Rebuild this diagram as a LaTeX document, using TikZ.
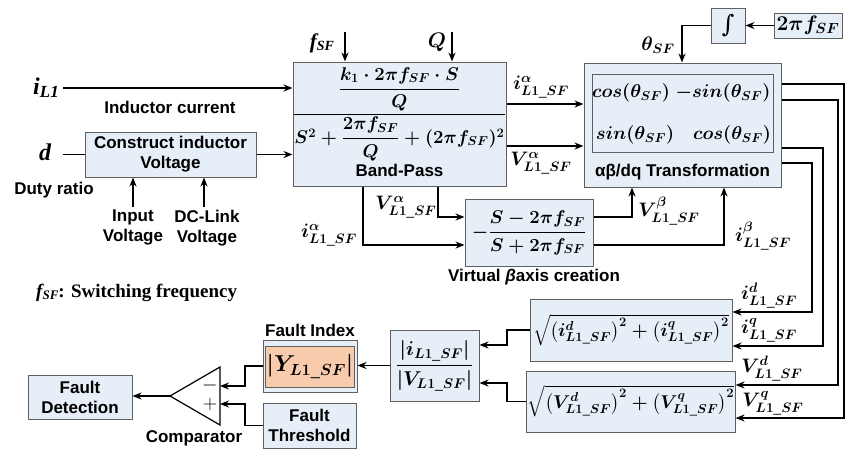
\RequirePackage{fix-cm}
\documentclass[tikz,border=0pt]{standalone}
\usepackage{amsmath}
\usepackage[no-math]{fontspec}
\setmainfont{Liberation Sans}
\newfontfamily\tms{Liberation Serif}
\newfontfamily\djv{DejaVu Serif}
\usetikzlibrary{arrows.meta}
\definecolor{bfill}{RGB}{230,238,247}
\definecolor{bdraw}{RGB}{95,95,95}
\definecolor{ofill}{RGB}{248,203,172}
\newcommand{\sub}{L1\_SF}
\begin{document}
\begin{tikzpicture}[x=1pt,y=-1pt,
  blk/.style={draw=bdraw,fill=bfill,line width=1pt,inner sep=1pt,align=center,font=\fontsize{17}{20}\selectfont\bfseries},
  mblk/.style={blk,font=\fontsize{18.5}{21}\selectfont\boldmath},
  wire/.style={line width=1.8pt},
  arr/.style={wire,-{Stealth[length=9pt,width=7pt]}},
  lbl/.style={inner sep=0pt,align=center,font=\fontsize{17}{20}\selectfont\bfseries},
  mlbl/.style={inner sep=0pt,font=\fontsize{19.5}{22}\selectfont\boldmath},
  tlbl/.style={inner sep=0pt,font=\tms\bfseries\itshape\fontsize{24}{26}\selectfont},
]
\useasboundingbox (0,0) rectangle (845,451);

% ---------- blocks ----------
\node[blk,minimum width=213pt,minimum height=124pt] (bp) at (399.5,124) {};
\node[mlbl,font=\fontsize{18.5}{21}\selectfont\boldmath] (bpf) at (399.5,114) {$\dfrac{\dfrac{k_1\cdot 2\pi f_{SF}\cdot S}{Q}}{S^2+\dfrac{2\pi f_{SF}}{Q}+(2\pi f_{SF})^2}$};
\node[lbl] (bpl) at (399.5,170) {Band-Pass};

\node[blk,minimum width=171pt,minimum height=45pt] (cv) at (170.5,154.5) {Construct inductor\\Voltage};

\node[blk,minimum width=197pt,minimum height=124pt] (tf) at (682.5,125) {};
\node[draw=bdraw,fill=bfill,line width=1pt,minimum width=181pt,minimum height=78pt] (mat) at (682.5,113) {};
\node[mlbl,font=\fontsize{18.5}{21}\selectfont\boldmath] (m11) at (631,93) {$cos(\theta_{SF})$};
\node[mlbl,font=\fontsize{18.5}{21}\selectfont\boldmath] (m12) at (723,93) {$-sin(\theta_{SF})$};
\node[mlbl,font=\fontsize{18.5}{21}\selectfont\boldmath] (m21) at (635,135) {$sin(\theta_{SF})$};
\node[mlbl,font=\fontsize{18.5}{21}\selectfont\boldmath] (m22) at (732,135) {$cos(\theta_{SF})$};
\node[lbl] (tfl) at (682.5,172) {αβ/dq Transformation};

\node[blk,minimum width=34pt,minimum height=35pt,inner sep=0pt,font=\djv\fontsize{24}{24}\selectfont] (integ) at (728,25.5) {∫};
\node[mblk,minimum width=68pt,minimum height=25pt,font=\fontsize{21}{23}\selectfont\boldmath] (twopi) at (808,25.5) {$2\pi f_{SF}$};

\node[mblk,minimum width=128pt,minimum height=67pt] (vb) at (529,232.5) {$-\dfrac{S-2\pi f_{SF}}{S+2\pi f_{SF}}$};
\node[lbl] (vbl) at (534,277) {Virtual {\itshape β}axis creation};

\node[mblk,minimum width=202pt,minimum height=62pt] (sq1) at (631,330) {$\sqrt{\bigl(i^{d}_{\sub}\bigr)^{2}+\bigl(i^{q}_{\sub}\bigr)^{2}}$};
\node[mblk,minimum width=202pt,minimum height=61pt] (sq2) at (631,401.5) {$\sqrt{\bigl(V^{d}_{\sub}\bigr)^{2}+\bigl(V^{q}_{\sub}\bigr)^{2}}$};

\node[mblk,minimum width=89pt,minimum height=71pt,font=\fontsize{20}{22}\selectfont\boldmath] (ratio) at (434.5,365.5) {$\dfrac{\left|i_{\sub}\right|}{\left|V_{\sub}\right|}$};

\node[blk,minimum width=94pt,minimum height=52pt] (fi) at (310,366) {};
\node[draw=bdraw,fill=ofill,line width=1pt,minimum width=79pt,minimum height=41pt,inner sep=1pt,font=\fontsize{23}{25}\selectfont\boldmath] (fiin) at (310,366.5) {$\left|Y_{\sub}\right|$};
\node[lbl] (fil) at (310,330) {Fault Index};

\node[blk,minimum width=93pt,minimum height=45pt] (ft) at (309.5,425.5) {Fault\\Threshold};
\node[blk,minimum width=104pt,minimum height=44pt] (fd) at (80,397) {Fault\\Detection};

% comparator
\coordinate (ctip) at (170,396);
\coordinate (ctop) at (220,367);
\coordinate (cbot) at (220,425);
\coordinate (cm) at (220,386);
\coordinate (cp) at (220,404);
\draw[line width=1.2pt,fill=white] (ctip) -- (ctop) -- (cbot) -- cycle;
\node[inner sep=0pt,font=\fontsize{20}{20}\selectfont] (minus) at (210,385) {$-$};
\node[inner sep=0pt,font=\fontsize{20}{20}\selectfont] (plus) at (210,404) {$+$};
\node[lbl] (cmpl) at (194,438) {Comparator};

% ---------- input labels ----------
\node[tlbl] (iL) at (46,88) {i\raisebox{-3pt}{\fontsize{17}{17}\selectfont L1}};
\coordinate (iLs) at (63,88);
\node[lbl] (icl) at (170,107) {Inductor current};
\node[tlbl] (dl) at (45,152) {d};
\coordinate (ds) at (63,154.5);
\node[lbl] (drl) at (54,190) {Duty ratio};
\node[lbl,anchor=north] (inv) at (133,210) {Input\\Voltage};
\coordinate (invs) at (133,207);
\node[lbl,anchor=north] (dcv) at (207,210) {DC-Link\\Voltage};
\coordinate (dcvs) at (204,207);
\node[inner sep=0pt,font=\tms\bfseries\itshape\fontsize{21}{23}\selectfont] (fsfl) at (322,43) {f\raisebox{-2pt}{\fontsize{14}{14}\selectfont SF}};
\coordinate (fsfs) at (345,32);
\node[mlbl,font=\fontsize{21}{23}\selectfont\boldmath] (ql) at (437,42) {$Q$};
\coordinate (qs) at (452,32);
\node[inner sep=0pt,anchor=west,font=\tms\bfseries\fontsize{19}{21}\selectfont] (swl) at (36,293) {\itshape f\raisebox{-2pt}{\fontsize{13}{13}\selectfont SF}\upshape: Switching frequency};

% ---------- signal labels ----------
\node[mlbl] (la1) at (541,87) {$i^{\alpha}_{\sub}$};
\node[mlbl] (la2) at (541,163) {$V^{\alpha}_{\sub}$};
\node[mlbl] (lth) at (658,45) {$\theta_{SF}$};
\node[mlbl] (la3) at (406,207) {$V^{\alpha}_{\sub}$};
\node[mlbl] (la4) at (329,235) {$i^{\alpha}_{\sub}$};
\node[mlbl] (lb1) at (669,211) {$V^{\beta}_{\sub}$};
\node[mlbl] (lb2) at (763,236) {$i^{\beta}_{\sub}$};
\node[mlbl] (ld1) at (769,296) {$i^{d}_{\sub}$};
\node[mlbl] (ld2) at (769,330) {$i^{q}_{\sub}$};
\node[mlbl] (ld3) at (772,369) {$V^{d}_{\sub}$};
\node[mlbl] (ld4) at (773,403) {$V^{q}_{\sub}$};

% ---------- connectors ----------
\draw[arr] (iLs) -- (iLs -| bp.west);
\draw[wire] (ds) -- (cv.west);
\draw[arr] (cv.east) -- (cv.east -| bp.west);
\draw[arr] (invs) -- (invs |- cv.south);
\draw[arr] (dcvs) -- (dcvs |- cv.south);
\draw[arr] (fsfs) -- (fsfs |- bp.north);
\draw[arr] (qs) -- (qs |- bp.north);

\draw[arr] (bp.east |- 0,104) -- (tf.west |- 0,104);
\draw[arr] (bp.east |- 0,146) -- (tf.west |- 0,146);
\draw[arr] (bp.south -| 363,0) -- (363,245) -- (vb.west |- 0,245);
\draw[arr] (bp.south -| 438,0) -- (438,217) -- (vb.west |- 0,217);
\draw[arr] (vb.east |- 0,217) -- (632,217) -- (tf.south -| 632,0);
\draw[arr] (vb.east |- 0,245) -- (724,245) -- (tf.south -| 724,0);

\draw[arr] (twopi.west) -- (integ.east);
\draw[arr] (integ.west) -- (682,25.5) -- (tf.north -| 682,0);

\draw[arr] (tf.east |- 0,84) -- (844,84) -- (844,418) -- (sq2.east |- 0,418);
\draw[arr] (tf.east |- 0,100) -- (838,100) -- (838,385) -- (sq2.east |- 0,385);
\draw[arr] (tf.east |- 0,148) -- (823,148) -- (823,346) -- (sq1.east |- 0,346);
\draw[arr] (tf.east |- 0,163) -- (812,163) -- (812,312) -- (sq1.east |- 0,312);

\draw[arr] (sq1.west) -- (507,330) -- (507,345) -- (ratio.east |- 0,345);
\draw[arr] (sq2.west) -- (507,401.5) -- (507,383) -- (ratio.east |- 0,383);
\draw[arr] (ratio.west) -- (fi.east |- ratio.west);
\draw[arr] (fi.west) -- (245,366) -- (245,386) -- (cm);
\draw[arr] (ft.west) -- (245,425.5) -- (245,404) -- (cp);
\draw[arr] (ctip) -- (fd.east |- ctip);
\end{tikzpicture}
\end{document}
